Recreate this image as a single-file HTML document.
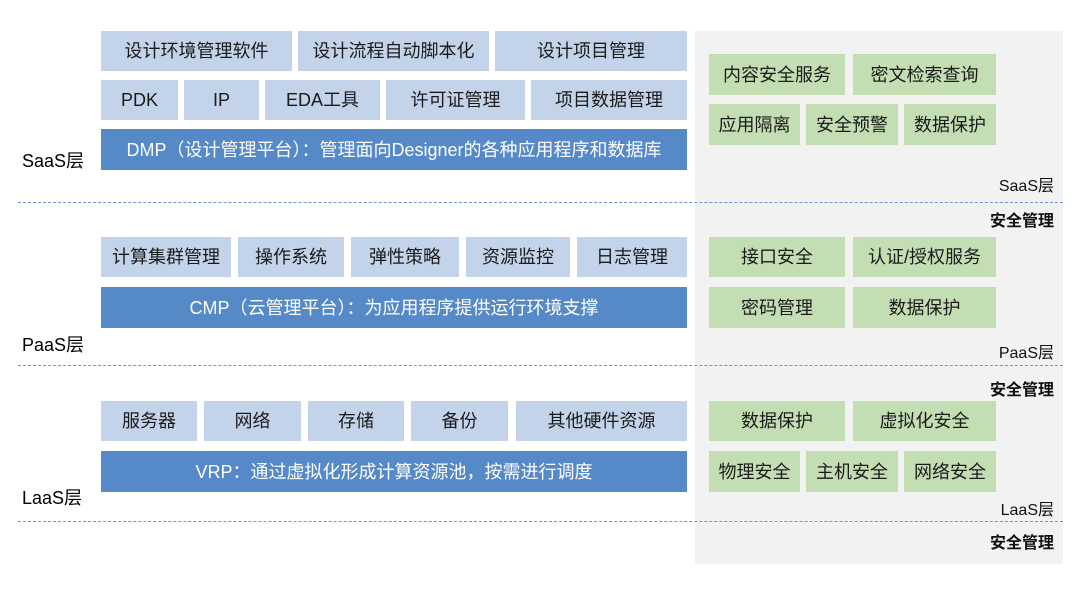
<!DOCTYPE html>
<html><head><meta charset="utf-8"><style>
body{margin:0;width:1080px;height:593px;background:#fff;position:relative;overflow:hidden;font-family:"Liberation Sans","Noto Sans CJK SC",sans-serif;}
.a{position:absolute;display:flex;align-items:center;justify-content:center;font-size:18px;color:#1a1a1a;box-sizing:border-box;line-height:1;}
.l{background:#c3d4ea;}
.d{background:#5589c8;color:#fff;}
.g{background:#c4deb4;}
.t{position:absolute;font-size:18px;color:#000;white-space:nowrap;}
.r{position:absolute;font-size:16px;color:#111;right:26px;white-space:nowrap;}
.b{font-weight:bold;}
.dash{position:absolute;left:18px;width:1045px;border-top:1.5px dashed #6f93d3;}
</style></head><body>
<div style="position:absolute;left:695px;top:31px;width:368px;height:533px;background:#f2f2f2"></div>
<div class="dash" style="top:202px"></div>
<div class="dash" style="top:365px"></div>
<div class="dash" style="top:521px"></div>

<div class="a l" style="left:101px;top:31px;width:191px;height:40px">设计环境管理软件</div>
<div class="a l" style="left:298px;top:31px;width:191px;height:40px">设计流程自动脚本化</div>
<div class="a l" style="left:495px;top:31px;width:192px;height:40px">设计项目管理</div>
<div class="a l" style="left:101px;top:80px;width:77px;height:40px">PDK</div>
<div class="a l" style="left:184px;top:80px;width:75px;height:40px">IP</div>
<div class="a l" style="left:265px;top:80px;width:115px;height:40px">EDA工具</div>
<div class="a l" style="left:386px;top:80px;width:139px;height:40px">许可证管理</div>
<div class="a l" style="left:531px;top:80px;width:156px;height:40px">项目数据管理</div>
<div class="a d" style="left:101px;top:129px;width:586px;height:41px">DMP（设计管理平台）：管理面向Designer的各种应用程序和数据库</div>
<div class="t" style="left:22px;top:147px">SaaS层</div>

<div class="a g" style="left:709px;top:54px;width:136px;height:41px">内容安全服务</div>
<div class="a g" style="left:853px;top:54px;width:143px;height:41px">密文检索查询</div>
<div class="a g" style="left:709px;top:104px;width:91px;height:41px">应用隔离</div>
<div class="a g" style="left:806px;top:104px;width:92px;height:41px">安全预警</div>
<div class="a g" style="left:904px;top:104px;width:92px;height:41px">数据保护</div>
<div class="r" style="top:172px">SaaS层</div>
<div class="r b" style="top:207px">安全管理</div>

<div class="a l" style="left:101px;top:237px;width:130px;height:40px">计算集群管理</div>
<div class="a l" style="left:238px;top:237px;width:106px;height:40px">操作系统</div>
<div class="a l" style="left:351px;top:237px;width:108px;height:40px">弹性策略</div>
<div class="a l" style="left:466px;top:237px;width:104px;height:40px">资源监控</div>
<div class="a l" style="left:577px;top:237px;width:110px;height:40px">日志管理</div>
<div class="a d" style="left:101px;top:287px;width:586px;height:41px">CMP（云管理平台）：为应用程序提供运行环境支撑</div>
<div class="t" style="left:22px;top:331px">PaaS层</div>

<div class="a g" style="left:709px;top:237px;width:136px;height:40px">接口安全</div>
<div class="a g" style="left:853px;top:237px;width:143px;height:40px">认证/授权服务</div>
<div class="a g" style="left:709px;top:287px;width:136px;height:41px">密码管理</div>
<div class="a g" style="left:853px;top:287px;width:143px;height:41px">数据保护</div>
<div class="r" style="top:339px">PaaS层</div>
<div class="r b" style="top:376px">安全管理</div>

<div class="a l" style="left:101px;top:401px;width:96px;height:40px">服务器</div>
<div class="a l" style="left:204px;top:401px;width:97px;height:40px">网络</div>
<div class="a l" style="left:308px;top:401px;width:96px;height:40px">存储</div>
<div class="a l" style="left:411px;top:401px;width:97px;height:40px">备份</div>
<div class="a l" style="left:516px;top:401px;width:171px;height:40px">其他硬件资源</div>
<div class="a d" style="left:101px;top:451px;width:586px;height:41px">VRP：通过虚拟化形成计算资源池，按需进行调度</div>
<div class="t" style="left:22px;top:484px">LaaS层</div>

<div class="a g" style="left:709px;top:401px;width:136px;height:40px">数据保护</div>
<div class="a g" style="left:853px;top:401px;width:143px;height:40px">虚拟化安全</div>
<div class="a g" style="left:709px;top:451px;width:91px;height:41px">物理安全</div>
<div class="a g" style="left:806px;top:451px;width:92px;height:41px">主机安全</div>
<div class="a g" style="left:904px;top:451px;width:92px;height:41px">网络安全</div>
<div class="r" style="top:496px">LaaS层</div>
<div class="r b" style="top:529px">安全管理</div>
</body></html>
